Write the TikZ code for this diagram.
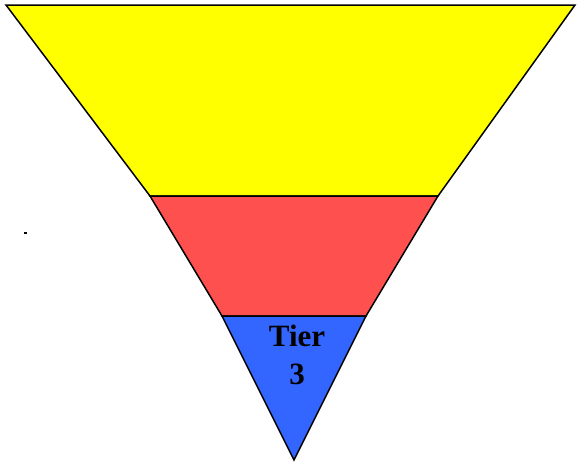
\documentclass[tikz,border=0pt]{standalone}
\usepackage{fontspec}
\setmainfont{Liberation Serif}
\usepackage{xcolor}
\usetikzlibrary{positioning,calc}
\definecolor{tieryellow}{RGB}{255,255,0}
\definecolor{tierred}{RGB}{255,80,80}
\definecolor{tierblue}{RGB}{51,102,255}
\tikzset{
	band/.style={draw=black,line width=1.5pt,line join=miter},
	tieryellowband/.style={band,fill=tieryellow},
	tierredband/.style={band,fill=tierred},
	tierblueband/.style={band,fill=tierblue},
	tierlabel/.style={font=\bfseries\fontsize{31}{38}\selectfont,align=center,inner sep=0pt},
}
\begin{document}
\begin{tikzpicture}[x=1pt,y=-1pt]
				\useasboundingbox (0,0) rectangle (577,463);
				
				% Corners
				\coordinate (topleft) at (6,5);
				\coordinate (topright) at (575,5);
				\coordinate (midleft) at (150,196);
				\coordinate (midright) at (438,196);
				\coordinate (lowleft) at (222,316);
				\coordinate (lowright) at (366,316);
				\coordinate (apex) at (294,460);
				
				% Tier 1
				\filldraw[tieryellowband] (topleft) -- (topright) -- (midright) -- (midleft) -- cycle;
				
				% Tier 2
				\filldraw[tierredband] (midleft) -- (midright) -- (lowright) -- (lowleft) -- cycle;
				
				% Tier 3
				\filldraw[tierblueband] (lowleft) -- (lowright) -- (apex) -- cycle;
				\node[tierlabel] (tier3) at (297,355) {Tier\\3};
				
				% Stray dot
				\fill (24,232) rectangle (27,234);
				
\end{tikzpicture}
\end{document}
